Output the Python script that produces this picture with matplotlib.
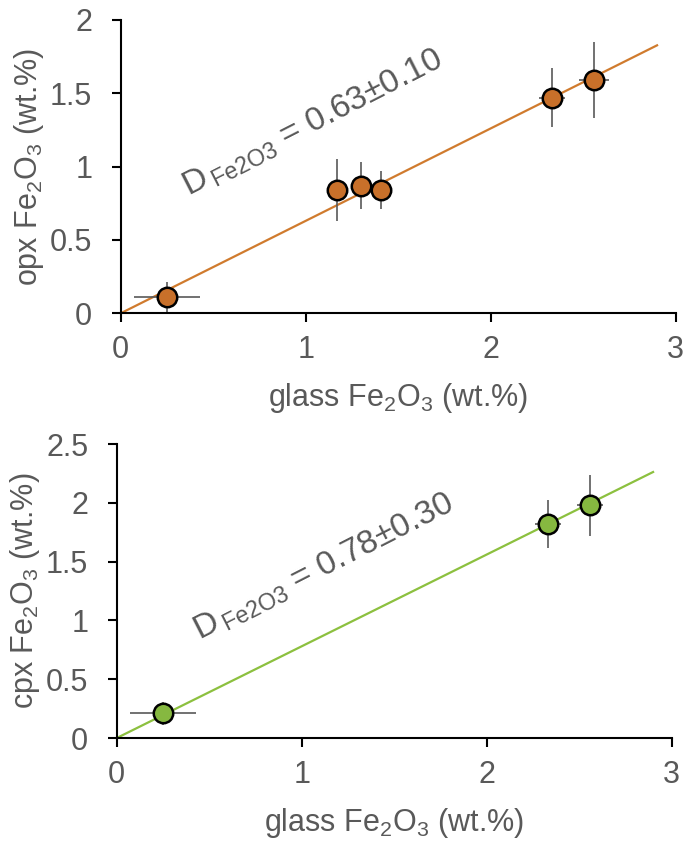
import matplotlib.pyplot as plt
from matplotlib.ticker import FuncFormatter

plt.rcParams['font.family'] = ['Liberation Sans', 'DejaVu Sans']
plt.rcParams['mathtext.default'] = 'regular'

# opx data
opx_glass = [0.25, 1.17, 1.30, 1.41, 2.33, 2.56]
opx_glass_err = [0.18, 0.03, 0.03, 0.03, 0.07, 0.08]
opx_val = [0.11, 0.84, 0.87, 0.84, 1.47, 1.59]
opx_err = [0.10, 0.21, 0.16, 0.13, 0.20, 0.26]
opx_D = 0.63

# cpx data
cpx_glass = [0.25, 2.33, 2.56]
cpx_glass_err = [0.18, 0.07, 0.07]
cpx_val = [0.21, 1.82, 1.98]
cpx_err = [0.10, 0.20, 0.26]
cpx_D = 0.78

line_x = [0, 2.9]
gray = '#595959'

fig = plt.figure(figsize=(6.85, 8.49), dpi=100)
ax1 = fig.add_axes([0.1762, 0.6310, 0.810, 0.3455])
ax2 = fig.add_axes([0.1704, 0.1307, 0.810, 0.3463])

panels = [
    (ax1, opx_glass, opx_glass_err, opx_val, opx_err, opx_D, '#C8702A', '#D07B2E',
     'opx', 2, [0, 0.5, 1, 1.5, 2], 'D$_{\\,Fe2O3}$ = 0.63±0.10', (0.365, 0.795)),
    (ax2, cpx_glass, cpx_glass_err, cpx_val, cpx_err, cpx_D, '#86B840', '#8CC03F',
     'cpx', 2.5, [0, 0.5, 1, 1.5, 2, 2.5], 'D$_{\\,Fe2O3}$ = 0.78±0.30', (0.45, 0.83)),
]

for ax, gx, gxe, v, ve, D, fc, lc, name, ymax, yt, txt, tpos in panels:
    ax.plot(line_x, [D * x for x in line_x], color=lc, lw=1.6, zorder=1)
    ax.errorbar(gx, v, xerr=gxe, yerr=ve, fmt='none', ecolor=gray, elinewidth=1.2,
                capsize=0, zorder=2)
    ax.plot(gx, v, 'o', ms=14, mfc=fc, mec='black', mew=1.8, zorder=3)
    ax.set_xlim(0, 3)
    ax.set_ylim(0, ymax)
    ax.set_xticks([0, 1, 2, 3])
    ax.set_yticks(yt)
    ax.yaxis.set_major_formatter(FuncFormatter(lambda val, pos: '%g' % val))
    for s in ['top', 'right']:
        ax.spines[s].set_visible(False)
    for s in ['left', 'bottom']:
        ax.spines[s].set_linewidth(1.5)
    ax.tick_params(direction='out', length=6.5, width=1.5, labelsize=22,
                   labelcolor=gray)
    ax.tick_params(axis='x', pad=9)
    ax.tick_params(axis='y', pad=14)
    ax.set_xlabel('glass Fe$_2$O$_3$ (wt.%)', fontsize=22, color=gray, labelpad=12)
    ax.set_ylabel(name + ' Fe$_2$O$_3$ (wt.%)', fontsize=22, color=gray, labelpad=3)
    ax.text(tpos[0], tpos[1], txt, fontsize=24, color=gray, rotation=27,
            rotation_mode='anchor', ha='left', va='baseline')

fig.savefig('out.png', dpi=100)
